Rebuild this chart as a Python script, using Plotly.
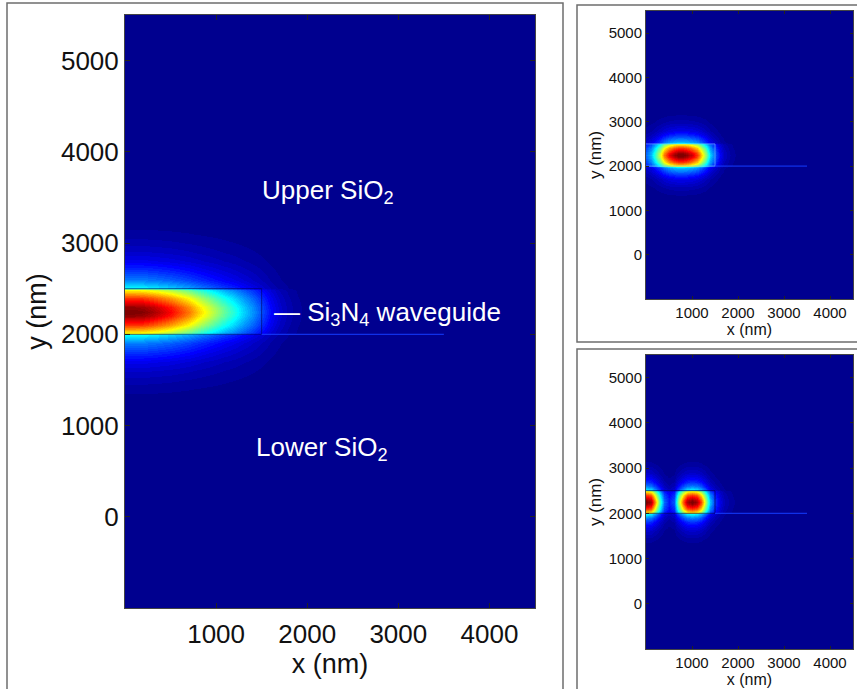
import numpy as np
import plotly.graph_objects as go

# ---------------- data ----------------
# transverse (vertical) intensity profile through the waveguide (shared by all panels)
y_nm = [-1000, 1100, 1200, 1300, 1400, 1500, 1600, 1700, 1800, 1900, 1950, 1990,
        2010, 2100, 2200, 2250, 2300, 2400, 2490,
        2510, 2550, 2600, 2700, 2800, 2900, 3000, 3100, 3200, 3300, 3400, 5500]
y_profile = [0, 0, 0.004, 0.01, 0.022, 0.04, 0.065, 0.10, 0.16, 0.24, 0.30, 0.37,
             0.62, 0.82, 0.97, 1.00, 0.97, 0.82, 0.62,
             0.37, 0.30, 0.24, 0.16, 0.10, 0.065, 0.04, 0.022, 0.01, 0.004, 0.0, 0]

# longitudinal (horizontal) profiles, one per panel
x_main = [0, 100, 200, 300, 400, 500, 600, 700, 800, 900, 1000, 1100, 1200, 1300, 1400,
          1500, 1600, 1700, 1800, 1900, 2000, 2200, 4500]
x_main_profile = [1.0, 1.0, 0.99, 0.96, 0.92, 0.87, 0.81, 0.75, 0.67, 0.60, 0.53, 0.46,
                  0.40, 0.33, 0.26, 0.19, 0.12, 0.07, 0.04, 0.02, 0.01, 0.0, 0.0]

x_top = [0, 100, 200, 300, 400, 500, 600, 700, 800, 900, 1000, 1100, 1200, 1300, 1400,
         1500, 1600, 1700, 1800, 1900, 2000, 2200, 4500]
x_top_profile = [0.22, 0.30, 0.42, 0.58, 0.75, 0.88, 0.96, 1.0, 1.0, 0.97, 0.91, 0.82,
                 0.68, 0.50, 0.33, 0.21, 0.11, 0.06, 0.035, 0.02, 0.01, 0.0, 0.0]

x_bot = [0, 100, 200, 300, 400, 500, 600, 650, 700, 800, 900, 1000, 1100, 1200, 1300,
         1400, 1500, 1600, 1700, 1800, 1900, 2000, 2200, 4500]
x_bot_profile = [1.0, 0.95, 0.72, 0.42, 0.22, 0.14, 0.20, 0.35, 0.50, 0.78, 0.95, 1.0,
                 0.95, 0.80, 0.52, 0.30, 0.17, 0.09, 0.05, 0.03, 0.018, 0.01, 0.0, 0.0]

# waveguide geometry (nm)
wg_box_x = [0, 1500, 1500, 0]
wg_box_y = [2500, 2500, 2000, 2000]
slab_x = [1500, 3500]
slab_y = [2000, 2000]

x_ticks = [1000, 2000, 3000, 4000]
y_ticks = [0, 1000, 2000, 3000, 4000, 5000]
x_range = [0, 4500]
y_range = [-1000, 5500]

# ---------------- style ----------------
W, H = 857, 689
FONT = "Arial, Liberation Sans, sans-serif"


def jet64():
    cs = []
    for k in range(1, 65):
        r = min(max(min((k - 24) / 16, (72 - k) / 16), 0), 1)
        g = min(max(min((k - 8) / 16, (56 - k) / 16), 0), 1)
        b = min(max(min((k + 8) / 16, (40 - k) / 16), 0), 1)
        c = f"rgb({round(r*255)},{round(g*255)},{round(b*255)})"
        cs.append([(k - 1) / 64, c])
        cs.append([k / 64, c])
    return cs


JET = jet64()

fig = go.Figure()

panels = [
    ("x", "y", x_main, x_main_profile, "rgba(0,0,90,0.6)"),
    ("x2", "y2", x_top, x_top_profile, "rgba(120,190,255,0.6)"),
    ("x3", "y3", x_bot, x_bot_profile, "rgba(0,0,90,0.7)"),
]
for xa, ya, xs, xp, boxcol in panels:
    z = np.outer(np.array(y_profile), np.array(xp))
    fig.add_trace(go.Heatmap(x=xs, y=y_nm, z=z, xaxis=xa, yaxis=ya, colorscale=JET,
                             zmin=0, zmax=1, zsmooth="best", showscale=False,
                             hoverinfo="skip"))
    fig.add_trace(go.Scatter(x=wg_box_x, y=wg_box_y, xaxis=xa, yaxis=ya, mode="lines",
                             line=dict(color=boxcol, width=1), showlegend=False,
                             hoverinfo="skip"))
    fig.add_trace(go.Scatter(x=slab_x, y=slab_y, xaxis=xa, yaxis=ya, mode="lines",
                             line=dict(color="rgb(20,60,255)", width=1), showlegend=False,
                             hoverinfo="skip"))


def axis_style(tickfont, titlefont, ticklen, title, standoff, tls=0):
    return dict(showline=True, mirror="ticks", linecolor="#444", linewidth=1,
                ticks="inside", ticklen=ticklen, tickcolor="#222", tickwidth=1,
                showgrid=False, zeroline=False, ticklabelstandoff=tls,
                tickfont=dict(family=FONT, size=tickfont, color="#111"),
                title=dict(text=title, font=dict(family=FONT, size=titlefont, color="#111"),
                           standoff=standoff))


def px_x(a, b):
    return [a / W, b / W]


def px_y(top, bottom):
    return [1 - bottom / H, 1 - top / H]


fig.update_layout(
    width=W, height=H, margin=dict(l=0, r=0, t=0, b=0),
    paper_bgcolor="white", plot_bgcolor="white", showlegend=False,
    xaxis=dict(domain=px_x(125, 535), range=x_range, tickvals=x_ticks, anchor="y",
               **axis_style(26, 27, 5, "x (nm)", 0, 3)),
    yaxis=dict(domain=px_y(15, 608), range=y_range, tickvals=y_ticks, anchor="x",
               **axis_style(26, 27, 5, "y (nm)", 6)),
    xaxis2=dict(domain=px_x(646, 853), range=x_range, tickvals=x_ticks, anchor="y2",
                **axis_style(15, 16, 3, "x (nm)", 0)),
    yaxis2=dict(domain=px_y(11, 299), range=y_range, tickvals=y_ticks, anchor="x2",
                **axis_style(15, 17, 3, "y (nm)", 2)),
    xaxis3=dict(domain=px_x(646, 853), range=x_range, tickvals=x_ticks, anchor="y3",
                **axis_style(15, 16, 3, "x (nm)", 0)),
    yaxis3=dict(domain=px_y(355, 649), range=y_range, tickvals=y_ticks, anchor="x3",
                **axis_style(15, 17, 3, "y (nm)", 2)),
)

# panel frames
frame = dict(color="#6e6e6e", width=1.5)
fig.add_shape(type="rect", xref="paper", yref="paper", x0=7 / W, x1=563 / W,
              y0=-0.02, y1=1 - 3 / H, line=frame, fillcolor="rgba(0,0,0,0)", layer="below")
fig.add_shape(type="rect", xref="paper", yref="paper", x0=577 / W, x1=1.02,
              y0=1 - 342 / H, y1=1 - 5 / H, line=frame, fillcolor="rgba(0,0,0,0)", layer="below")
fig.add_shape(type="rect", xref="paper", yref="paper", x0=577 / W, x1=1.02,
              y0=-0.02, y1=1 - 349 / H, line=frame, fillcolor="rgba(0,0,0,0)", layer="below")

# region labels
lab_font = dict(family=FONT, size=26, color="white")
fig.add_annotation(x=2228, y=3560, xref="x", yref="y", text="Upper SiO<sub>2</sub>",
                   showarrow=False, font=lab_font, xanchor="center", yanchor="middle")
fig.add_annotation(x=2162, y=745, xref="x", yref="y", text="Lower SiO<sub>2</sub>",
                   showarrow=False, font=lab_font, xanchor="center", yanchor="middle")
fig.add_annotation(x=1614, y=2230, xref="x", yref="y",
                   text="— Si<sub>3</sub>N<sub>4</sub> waveguide",
                   showarrow=False, font=lab_font, xanchor="left", yanchor="middle")

fig.write_html("out.html")
